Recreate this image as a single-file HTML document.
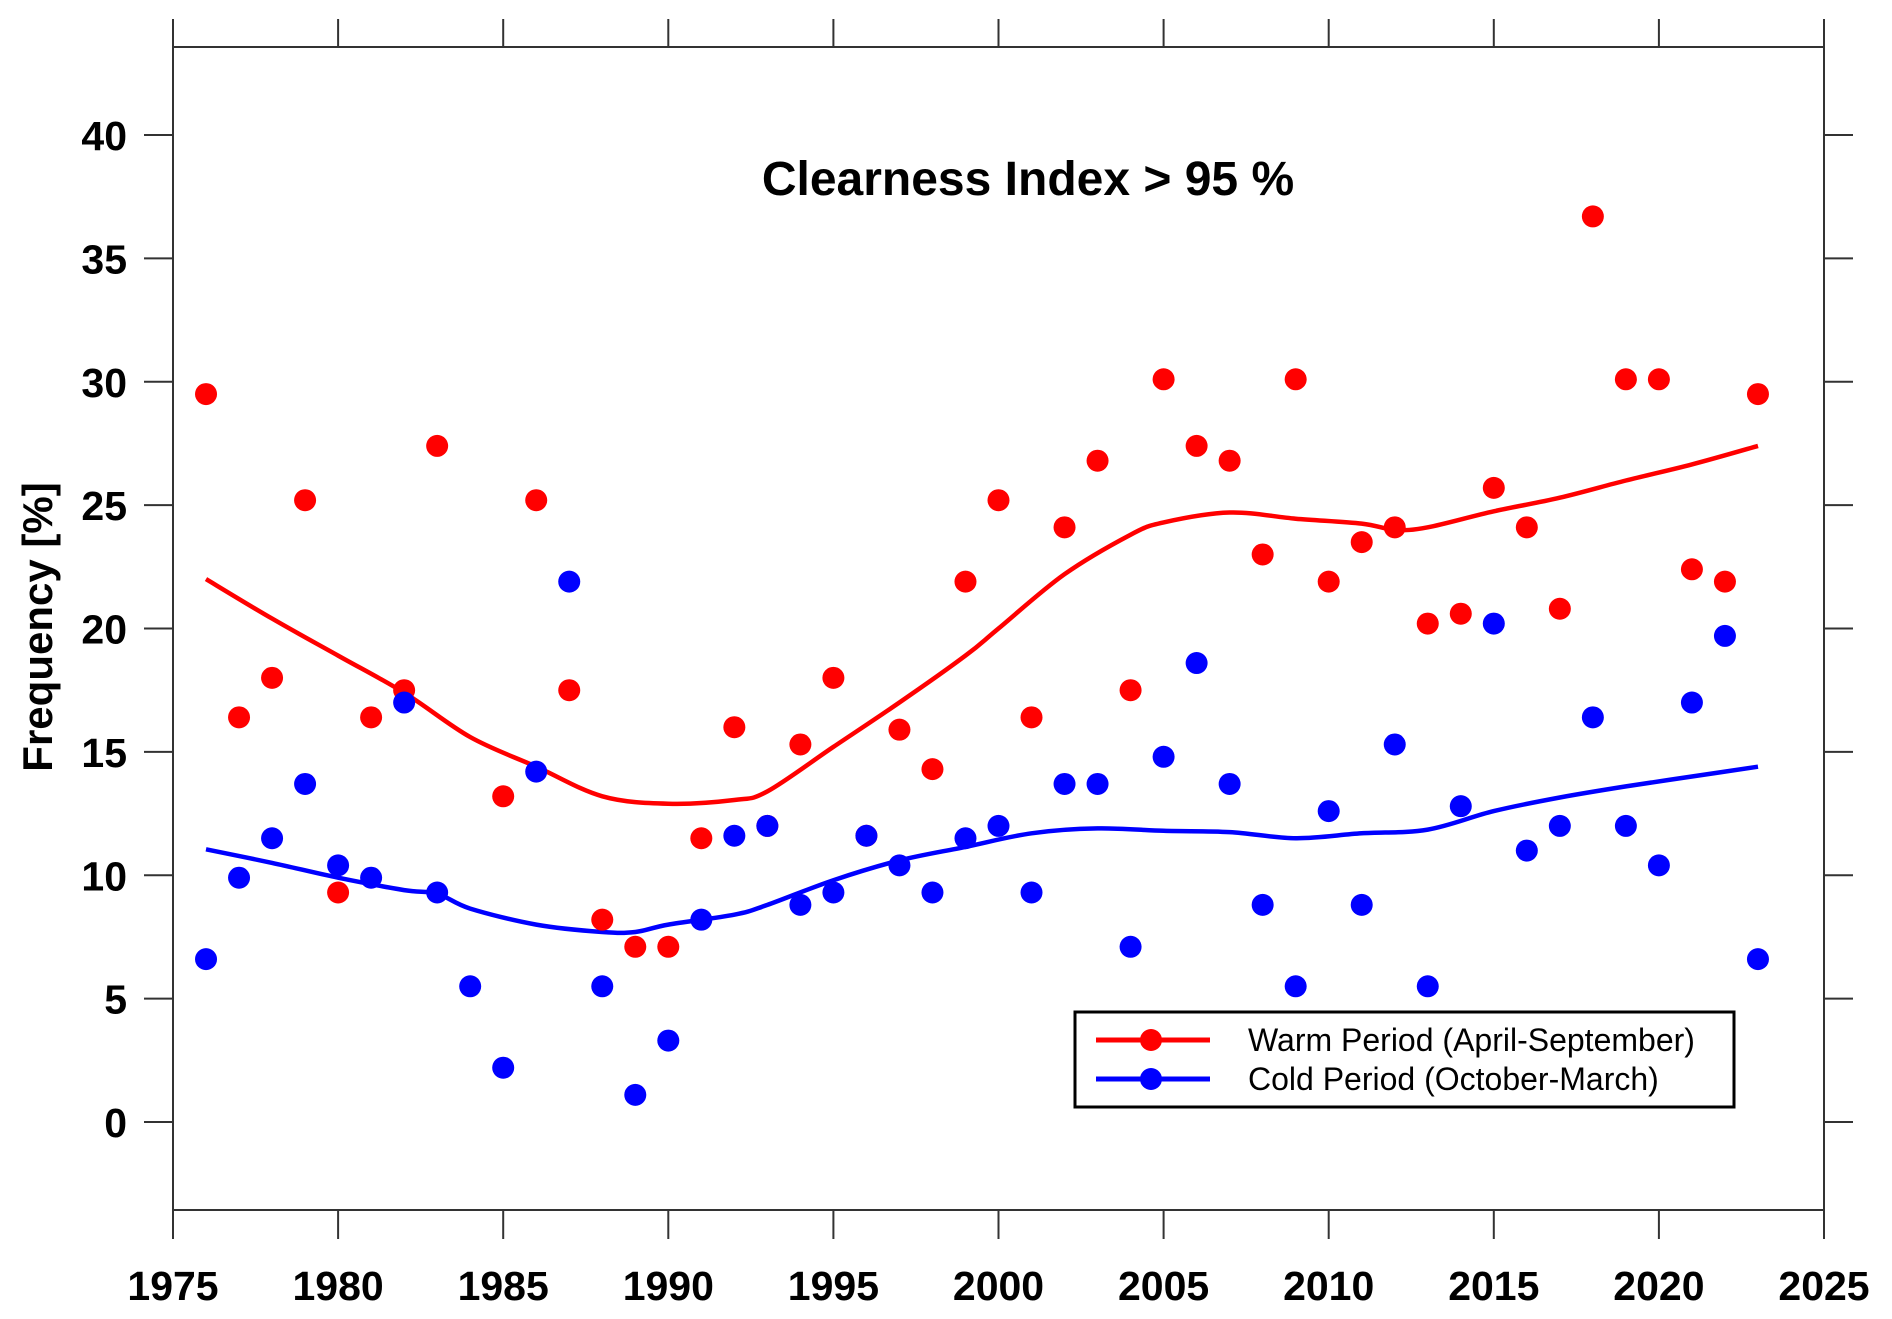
<!DOCTYPE html>
<html><head><meta charset="utf-8"><style>
html,body{margin:0;padding:0;background:#fff;}
svg{display:block;font-family:"Liberation Sans",Arial,sans-serif;}
</style></head><body>
<svg id="chart" width="1892" height="1319" viewBox="0 0 1892 1319"></svg>
<script>
const years = [];
for (let y = 1976; y <= 2023; y++) years.push(y);
const warmValues = [29.5,16.4,18.0,25.2,9.3,16.4,17.5,27.4,null,13.2,25.2,17.5,8.2,7.1,7.1,11.5,16.0,12.0,15.3,18.0,11.6,15.9,14.3,21.9,25.2,16.4,24.1,26.8,17.5,30.1,27.4,26.8,23.0,30.1,21.9,23.5,24.1,20.2,20.6,25.7,24.1,20.8,36.7,30.1,30.1,22.4,21.9,29.5];
const coldValues = [6.6,9.9,11.5,13.7,10.4,9.9,17.0,9.3,5.5,2.2,14.2,21.9,5.5,1.1,3.3,8.2,11.6,12.0,8.8,9.3,11.6,10.4,9.3,11.5,12.0,9.3,13.7,13.7,7.1,14.8,18.6,13.7,8.8,5.5,12.6,8.8,15.3,5.5,12.8,20.2,11.0,12.0,16.4,12.0,10.4,17.0,19.7,6.6];
const smoothYears = [1976,1978,1980,1982,1984,1986,1988,1990,1992,1993,1995,1997,1999,2000,2002,2004,2005,2007,2009,2011,2012,2013,2015,2017,2019,2021,2023];
const warmSmooth = [22.0,20.4,18.9,17.4,15.6,14.4,13.2,12.9,13.05,13.4,15.2,17.0,18.9,20.0,22.2,23.8,24.3,24.7,24.45,24.25,24.0,24.1,24.75,25.3,26.0,26.65,27.4];
const coldSmoothYears = [1976,1978,1980,1982,1983,1984,1986,1988,1989,1990,1992,1993,1995,1997,1999,2001,2003,2005,2007,2009,2011,2013,2015,2017,2019,2021,2023];
const coldSmooth = [11.05,10.5,9.9,9.4,9.25,8.65,8.0,7.7,7.7,8.0,8.4,8.8,9.8,10.6,11.15,11.7,11.9,11.8,11.75,11.5,11.7,11.85,12.6,13.15,13.6,14.0,14.4];
const xTicks = [1975,1980,1985,1990,1995,2000,2005,2010,2015,2020,2025];
const yTicks = [0,5,10,15,20,25,30,35,40];

const L=173,R=1824,T=47,B=1210;
const X = v => L + (v-1975)*(R-L)/50;
const Y = v => 1122 - v*(1122-135)/40;
const NS='http://www.w3.org/2000/svg';
const svg=document.getElementById('chart');
function mk(tag, attrs, parent){const e=document.createElementNS(NS,tag);for(const k in attrs)e.setAttribute(k,attrs[k]);(parent||svg).appendChild(e);return e;}

let e=mk('rect',{x:L,y:T,width:R-L,height:B-T,fill:'none',stroke:'#333','stroke-width':2});



xTicks.forEach(t=>{
  const x=X(t);
  let a=mk('line',{x1:x,x2:x,y1:B,y2:B+29,stroke:'#333','stroke-width':2});
  
  
  let b=mk('line',{x1:x,x2:x,y1:T,y2:T-28,stroke:'#333','stroke-width':2});
  
  
  let tx=mk('text',{x:x,y:1300,'text-anchor':'middle','font-size':41,'font-weight':'bold',fill:'#000'});
  tx.textContent=t;
  
  
});
yTicks.forEach(t=>{
  const y=Y(t);
  let a=mk('line',{x1:L-29,x2:L,y1:y,y2:y,stroke:'#333','stroke-width':2});
  
  
  let b=mk('line',{x1:R,x2:R+29,y1:y,y2:y,stroke:'#333','stroke-width':2});
  
  
  let tx=mk('text',{x:127,y:y+15,'text-anchor':'end','font-size':41,'font-weight':'bold',fill:'#000'});
  tx.textContent=t;
  
  
});

let yl=mk('text',{x:0,y:0,transform:'translate(52,627) rotate(-90)','text-anchor':'middle','font-size':42,'font-weight':'bold',fill:'#000'});
yl.textContent='Frequency [%]';



let ti=mk('text',{x:1028,y:195,'text-anchor':'middle','font-size':48,'font-weight':'bold',fill:'#000'});
ti.textContent='Clearness Index > 95 %';



function smoothPath(xs,vs){
  const p=xs.map((x,i)=>[X(x),Y(vs[i])]);
  let d='M'+p[0][0].toFixed(1)+','+p[0][1].toFixed(1);
  for(let i=0;i<p.length-1;i++){
    const p0=p[Math.max(0,i-1)],p1=p[i],p2=p[i+1],p3=p[Math.min(p.length-1,i+2)];
    const c1=[p1[0]+(p2[0]-p0[0])/6,p1[1]+(p2[1]-p0[1])/6];
    const c2=[p2[0]-(p3[0]-p1[0])/6,p2[1]-(p3[1]-p1[1])/6];
    d+=' C'+c1.map(v=>v.toFixed(1)).join(',')+' '+c2.map(v=>v.toFixed(1)).join(',')+' '+p2.map(v=>v.toFixed(1)).join(',');
  }
  return d;
}
let wl=mk('path',{d:smoothPath(smoothYears,warmSmooth),fill:'none',stroke:'#f00','stroke-width':4.5,'stroke-linejoin':'round'});


let cl=mk('path',{d:smoothPath(coldSmoothYears,coldSmooth),fill:'none',stroke:'#00f','stroke-width':4.5,'stroke-linejoin':'round'});



years.forEach((yr,i)=>{
  if(warmValues[i]!=null){
    let c=mk('circle',{cx:X(yr),cy:Y(warmValues[i]),r:11,fill:'#f00'});
    
    
  }
});
years.forEach((yr,i)=>{
  if(coldValues[i]!=null){
    let c=mk('circle',{cx:X(yr),cy:Y(coldValues[i]),r:11,fill:'#00f'});
    
    
  }
});

const lg=mk('g',{});


mk('rect',{x:1075,y:1012,width:659,height:95,fill:'#fff',stroke:'#000','stroke-width':3},lg);
[['#f00','Warm Period (April-September)',1040,'legend-entry-warm'],['#00f','Cold Period (October-March)',1079,'legend-entry-cold']].forEach(([c,t,y,n])=>{
  const g=mk('g',{},lg);
  
  
  mk('line',{x1:1096,x2:1210,y1:y,y2:y,stroke:c,'stroke-width':5},g);
  mk('circle',{cx:1151,cy:y,r:11,fill:c},g);
  const tx=mk('text',{x:1248,y:y+11,'font-size':32,fill:'#000'},g);
  tx.textContent=t;
});
</script>
</body></html>
